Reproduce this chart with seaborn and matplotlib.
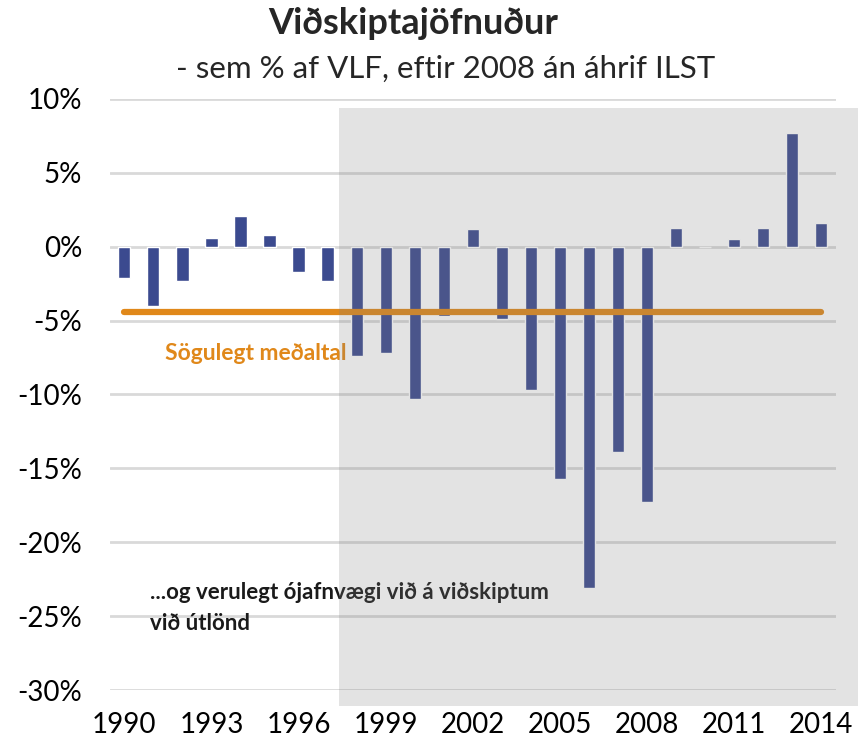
import numpy as np
import pandas as pd
import matplotlib.pyplot as plt
import matplotlib.patches as mpatches
import seaborn as sns

# data (% of GDP)
years = [str(y) for y in range(1990, 2015)]
balance = [-2.1, -4.0, -2.3, 0.6, 2.1, 0.8, -1.7, -2.3, -7.4, -7.2,
           -10.3, -4.7, 1.2, -4.9, -9.7, -15.7, -23.1, -13.9, -17.3, 1.3,
           0.0, 0.5, 1.3, 7.7, 1.6]
hist_avg = -4.4
yticks = [10, 5, 0, -5, -10, -15, -20, -25, -30]
xtick_years = years[::3]

df = pd.DataFrame({'ar': years, 'jofnudur': balance})

sns.set_style('white')
plt.rcParams['font.family'] = ['Lato', 'DejaVu Sans']

fig = plt.figure(figsize=(8.58, 7.43), dpi=100)
ax = fig.add_axes([0.128, 0.0713, 0.846, 0.7955])

sns.barplot(data=df, x='ar', y='jofnudur', order=years, color='#3B4A8F',
            width=0.42, saturation=1, ax=ax, zorder=3)

# historical average
ax.plot([0, len(years) - 1], [hist_avg, hist_avg], color='#E0881A', lw=4.5,
        solid_capstyle='round', zorder=4)

ax.set_ylim(-30, 10)
ax.set_xlim(-0.5, len(years) - 0.5)
ax.set_yticks(yticks)
ax.set_yticklabels([f'{t}%' for t in yticks])
ax.set_xticks([years.index(y) for y in xtick_years])
ax.set_xticklabels(xtick_years)
ax.tick_params(axis='both', labelsize=20, length=0, colors='#000000')
ax.tick_params(axis='y', pad=20)
ax.tick_params(axis='x', pad=16)
ax.yaxis.grid(True, color='#D9D9D9', lw=2)
ax.set_axisbelow(True)
ax.set_xlabel('')
ax.set_ylabel('')
sns.despine(ax=ax, left=True, bottom=True)

ax.text(1.4, -7.2, 'Sögulegt meðaltal', color='#E0881A', fontsize=16.5,
        fontweight='bold', ha='left', va='center', zorder=5)
ax.text(0.88, -22.7, '...og verulegt ójafnvægi við á viðskiptum\nvið útlönd',
        color='#1A1A1A', fontsize=16, fontweight='bold', ha='left', va='top',
        linespacing=1.55, zorder=5)

fig.text(0.482, 0.968, 'Viðskiptajöfnuður', fontsize=26, fontweight='bold',
         ha='center', va='center')
fig.text(0.519, 0.908, '- sem % af VLF, eftir 2008 án áhrif ILST', fontsize=22.5,
         ha='center', va='center')

# shaded period after 1997
fig.patches.append(mpatches.Rectangle((0.395, 0.0498), 0.605, 0.8048,
                                      transform=fig.transFigure,
                                      facecolor='#808080', alpha=0.22,
                                      edgecolor='none', zorder=10))

fig.savefig('out.png', dpi=100)
